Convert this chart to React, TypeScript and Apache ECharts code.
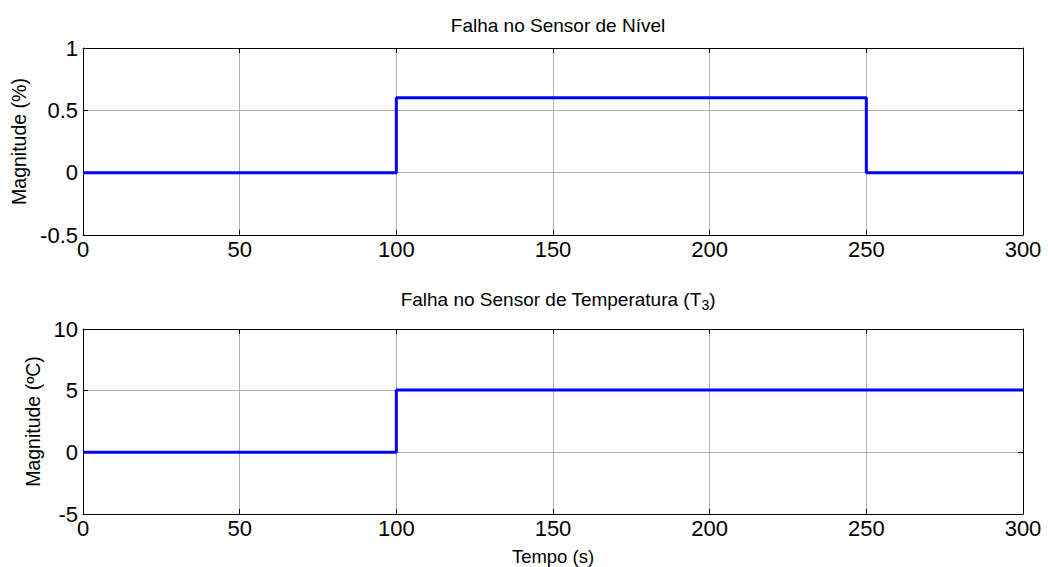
import React, { useEffect, useRef } from "react";
import * as echarts from "echarts";

const levelTime = [0, 100, 100, 250, 250, 300];
const levelValue = [0, 0, 0.6, 0.6, 0, 0];
const tempTime = [0, 100, 100, 300];
const tempValue = [0, 0, 5.05, 5.05];

const xTicks = [0, 50, 100, 150, 200, 250, 300];
const levelTicks = [-0.5, 0, 0.5, 1];
const tempTicks = [-5, 0, 5, 10];

const titleTop = "Falha no Sensor de Nível";
const titleBottom = "Falha no Sensor de Temperatura (T{sub|3})";
const yNameTop = "Magnitude (%)";
const yNameBottom = "Magnitude (ºC)";
const xName = "Tempo (s)";

const FONT = "'Liberation Sans', Arial, Helvetica, sans-serif";

export default function App() {
  const ref = useRef<HTMLDivElement>(null);
  useEffect(() => {
    const chart = echarts.init(ref.current!, null, { renderer: "svg" });
    const grids = [
      { left: 83, top: 48, width: 940, height: 187 },
      { left: 83, top: 329, width: 940, height: 187 },
    ];
    const xMin = xTicks[0];
    const xMax = xTicks[xTicks.length - 1];
    const xInt = xTicks[1] - xTicks[0];
    const mainX = (gi: number, withName: boolean) => ({
      type: "value",
      gridIndex: gi,
      min: xMin,
      max: xMax,
      interval: xInt,
      position: "bottom",
      name: withName ? xName : "",
      nameLocation: "middle",
      nameGap: 33,
      nameTextStyle: { fontFamily: FONT, fontSize: 18.5, color: "#000" },
      axisLine: { show: true, onZero: false, lineStyle: { color: "#000", width: 1 } },
      axisTick: { show: true, inside: true, length: 5, lineStyle: { color: "#000" } },
      axisLabel: { fontFamily: FONT, fontSize: 22, color: "#000", margin: 3 },
      splitLine: { show: true, lineStyle: { color: "#b0b0b0", width: 1 } },
    });
    const topX = (gi: number) => ({
      type: "value",
      gridIndex: gi,
      min: xMin,
      max: xMax,
      interval: xInt,
      position: "top",
      axisLine: { show: true, onZero: false, lineStyle: { color: "#000", width: 1 } },
      axisTick: { show: true, inside: true, length: 5, lineStyle: { color: "#000" } },
      axisLabel: { show: false },
      splitLine: { show: false },
    });
    const mainY = (gi: number, ticks: number[], name: string, gap: number) => ({
      type: "value",
      gridIndex: gi,
      min: ticks[0],
      max: ticks[ticks.length - 1],
      interval: ticks[1] - ticks[0],
      position: "left",
      name,
      nameLocation: "middle",
      nameGap: gap,
      nameTextStyle: { fontFamily: FONT, fontSize: 19.5, color: "#000" },
      axisLine: { show: true, onZero: false, lineStyle: { color: "#000", width: 1 } },
      axisTick: { show: true, inside: true, length: 5, lineStyle: { color: "#000" } },
      axisLabel: { fontFamily: FONT, fontSize: 22, color: "#000", margin: 5 },
      splitLine: { show: true, lineStyle: { color: "#b0b0b0", width: 1 } },
    });
    const rightY = (gi: number, ticks: number[]) => ({
      type: "value",
      gridIndex: gi,
      min: ticks[0],
      max: ticks[ticks.length - 1],
      interval: ticks[1] - ticks[0],
      position: "right",
      axisLine: { show: true, onZero: false, lineStyle: { color: "#000", width: 1 } },
      axisTick: { show: true, inside: true, length: 5, lineStyle: { color: "#000" } },
      axisLabel: { show: false },
      splitLine: { show: false },
    });
    chart.setOption({
      animation: false,
      backgroundColor: "#fff",
      title: [
        {
          text: titleTop,
          left: 553,
          top: 11,
          textAlign: "center",
          textStyle: { fontFamily: FONT, fontSize: 19, fontWeight: "normal", color: "#000" },
        },
        {
          text: titleBottom,
          left: 553,
          top: 281,
          textAlign: "center",
          textStyle: {
            fontFamily: FONT,
            fontSize: 19,
            fontWeight: "normal",
            color: "#000",
            rich: {
              sub: { fontFamily: FONT, fontSize: 14, color: "#000", padding: [12, 0, 0, 0] },
            },
          },
        },
      ],
      grid: grids,
      xAxis: [mainX(0, false), mainX(1, true), topX(0), topX(1)],
      yAxis: [
        mainY(0, levelTicks, yNameTop, 50),
        mainY(1, tempTicks, yNameBottom, 38),
        rightY(0, levelTicks),
        rightY(1, tempTicks),
      ],
      series: [
        {
          type: "line",
          name: "Nível",
          xAxisIndex: 0,
          yAxisIndex: 0,
          data: levelTime.map((t, i) => [t, levelValue[i]]),
          showSymbol: false,
          lineStyle: { color: "#0000ff", width: 3 },
        },
        {
          type: "line",
          name: "Temperatura",
          xAxisIndex: 1,
          yAxisIndex: 1,
          data: tempTime.map((t, i) => [t, tempValue[i]]),
          showSymbol: false,
          lineStyle: { color: "#0000ff", width: 3 },
        },
      ],
    });
    return () => chart.dispose();
  }, []);
  return (
    <div
      ref={ref}
      style={{ position: "fixed", left: 0, top: 0, width: 1048, height: 567, background: "#fff" }}
    />
  );
}
